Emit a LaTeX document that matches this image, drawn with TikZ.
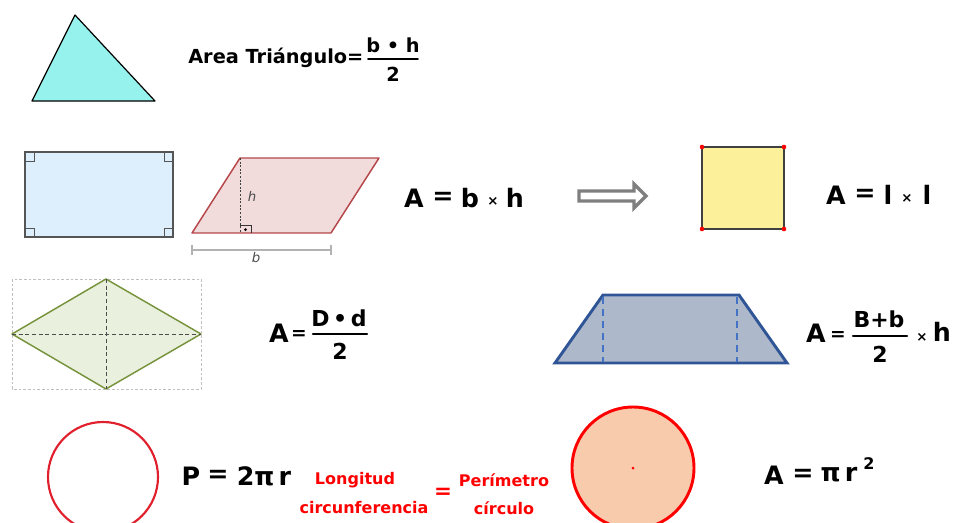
\documentclass[tikz,border=0pt]{standalone}
\usepackage{fontspec}
\setmainfont{DejaVu Sans}
\definecolor{trifill}{HTML}{96F2EC}
\definecolor{rectfill}{HTML}{DDEEFD}
\definecolor{rectline}{HTML}{555555}
\definecolor{parfill}{HTML}{F2DBDB}
\definecolor{parline}{HTML}{B5474B}
\definecolor{sqfill}{HTML}{FDF09B}
\definecolor{rhfill}{HTML}{EAF0DE}
\definecolor{rhline}{HTML}{77933C}
\definecolor{trfill}{HTML}{ADB9CA}
\definecolor{trline}{HTML}{2F5597}
\definecolor{trdash}{HTML}{4472C4}
\definecolor{cirline}{HTML}{E0202C}
\definecolor{cirfill}{HTML}{F8CBAD}
\definecolor{arrgray}{HTML}{7F7F7F}
\begin{document}
\begin{tikzpicture}[x=0.75pt,y=-0.75pt,
  big/.style={inner sep=0pt, font=\fontsize{19}{22}\selectfont\bfseries},
  mid/.style={inner sep=0pt, font=\fontsize{14.5}{17}\selectfont\bfseries},
  fracpart/.style={inner sep=0pt, font=\fontsize{16.5}{19}\selectfont\bfseries},
  smalleq/.style={inner sep=0pt, font=\fontsize{14}{16}\selectfont\bfseries},
  tiny/.style={inner sep=0pt, font=\fontsize{10}{12}\selectfont\bfseries},
  redtxt/.style={inner sep=0pt, text=red, font=\fontsize{12}{14}\selectfont\bfseries},
  fracbar/.style={line width=1.6pt, line cap=round},
  lbl/.style={inner sep=0pt, font=\fontsize{10}{11}\selectfont, text=black!70}
]
\useasboundingbox (0,0) rectangle (954,522);

% ---------- triangle ----------
\draw[fill=trifill, line width=0.9pt, line join=round] (75,15) -- (32,101) -- (155,101) -- cycle;
\node[mid, anchor=west] (trilabel) at (188,58) {Area Triángulo=};
\node[mid] (trinum) at (393,45) {b • h};
\node[mid] (triden) at (393,74) {2};
\draw[fracbar, line width=1.4pt] (368,59) -- (418,59);

% ---------- rectangle ----------
\draw[fill=rectfill, draw=rectline, line width=1.1pt] (25,152) rectangle (173,237);
\draw[draw=rectline, line width=0.7pt]
  (25,161) -- (34,161) -- (34,152)
  (164,152) -- (164,161) -- (173,161)
  (25,228) -- (34,228) -- (34,237)
  (164,237) -- (164,228) -- (173,228);

% ---------- parallelogram ----------
\draw[fill=parfill, draw=parline, line width=1.1pt, line join=round] (192,233) -- (331,233) -- (379,158) -- (240,158) -- cycle;
\draw[black!75, line width=0.6pt, dash pattern=on 1.5pt off 1.2pt] (240,158) -- (240,233);
\draw[black!80, line width=0.6pt] (240,225) -- (251,225) -- (251,233);
\fill[black] (245.5,229.5) circle (1.5);
\node[lbl] (hlab) at (252,196) {\itshape h};
\draw[black!30, line width=0.9pt] (192,250) -- (331,250) (192,245) -- (192,255) (331,245) -- (331,255);
\node[lbl] (blab) at (256,258) {\itshape b};

\node[big] (a1) at (414,198) {A};
\node[big] (e1) at (443,198) {=};
\node[big] (b1) at (470,198) {b};
\node[tiny] (x1) at (493,201) {×};
\node[big] (h1) at (515,198) {h};

% ---------- arrow ----------
\draw[arrgray, fill=white, line width=2.4pt, line join=miter]
  (579,191) -- (634,191) -- (634,184) -- (646,196) -- (634,208) -- (634,201) -- (579,201) -- cycle;

% ---------- square ----------
\draw[fill=sqfill, draw=black!75, line width=1.2pt] (702,147) rectangle (784,229);
\foreach \p in {(702,147),(784,147),(702,229),(784,229)} \fill[red] \p circle (2.3);
\node[big] (a2) at (836,195) {A};
\node[big] (e2) at (865,195) {=};
\node[big] (l1) at (888,195) {l};
\node[tiny] (x2) at (907,198) {×};
\node[big] (l2) at (927,195) {l};

% ---------- rhombus ----------
\draw[black!25, line width=0.5pt, dash pattern=on 2pt off 1.5pt] (12,279) rectangle (201,389);
\draw[fill=rhfill, draw=rhline, line width=1.1pt, line join=round] (12,334) -- (106,279) -- (201,334) -- (106,389) -- cycle;
\draw[black!70, line width=0.7pt, dash pattern=on 3pt off 2pt] (12,334) -- (201,334) (106,279) -- (106,389);
\node[big] (a3) at (279,333) {A};
\node[smalleq] (e3) at (299,335) {=};
\node[fracpart] (rhnum) at (339,318) {D\,•\,d};
\node[fracpart] (rhden) at (340,351) {2};
\draw[fracbar] (313,334) -- (367,334);

% ---------- trapezoid ----------
\draw[fill=trfill, draw=trline, line width=2.2pt, line join=miter] (555,363) -- (787,363) -- (739,295) -- (603,295) -- cycle;
\draw[trdash, line width=1.6pt, dash pattern=on 5pt off 4pt] (603,297) -- (603,362) (737,297) -- (737,362);
\node[big] (a4) at (816,333) {A};
\node[smalleq] (e4) at (838,336) {=};
\node[fracpart] (trnum) at (879,319) {B+b};
\node[fracpart] (trden) at (880,354) {2};
\draw[fracbar] (853,336) -- (907,336);
\node[tiny] (x4) at (922,337) {×};
\node[big] (h4) at (942,332) {h};

% ---------- circumference ----------
\draw[cirline, line width=1.6pt] (103,477) circle (55);
\node[big] (p5) at (191,476) {P};
\node[big] (e5) at (218,476) {=};
\node[big] (pr) at (264,476) {2π\,r};
\node[redtxt] (long) at (355,480) {Longitud};
\node[redtxt] (circf) at (364,508) {circunferencia};
\node[redtxt, font=\fontsize{16}{18}\selectfont\bfseries] (eqr) at (443,493) {=};
\node[redtxt] (perim) at (504,480) {Perímetro};
\node[redtxt] (circl) at (504,508) {círculo};

% ---------- circle ----------
\draw[fill=cirfill, draw=red, line width=2.2pt] (633,468) circle (61);
\fill[red] (633,468) circle (1.5);
\node[big] (a6) at (774,475) {A};
\node[big] (e6) at (803,475) {=};
\node[big] (pr6) at (839,475) {π\,r};
\node[tiny, font=\fontsize{12}{14}\selectfont\bfseries] (sq6) at (869,464) {2};
\end{tikzpicture}
\end{document}
